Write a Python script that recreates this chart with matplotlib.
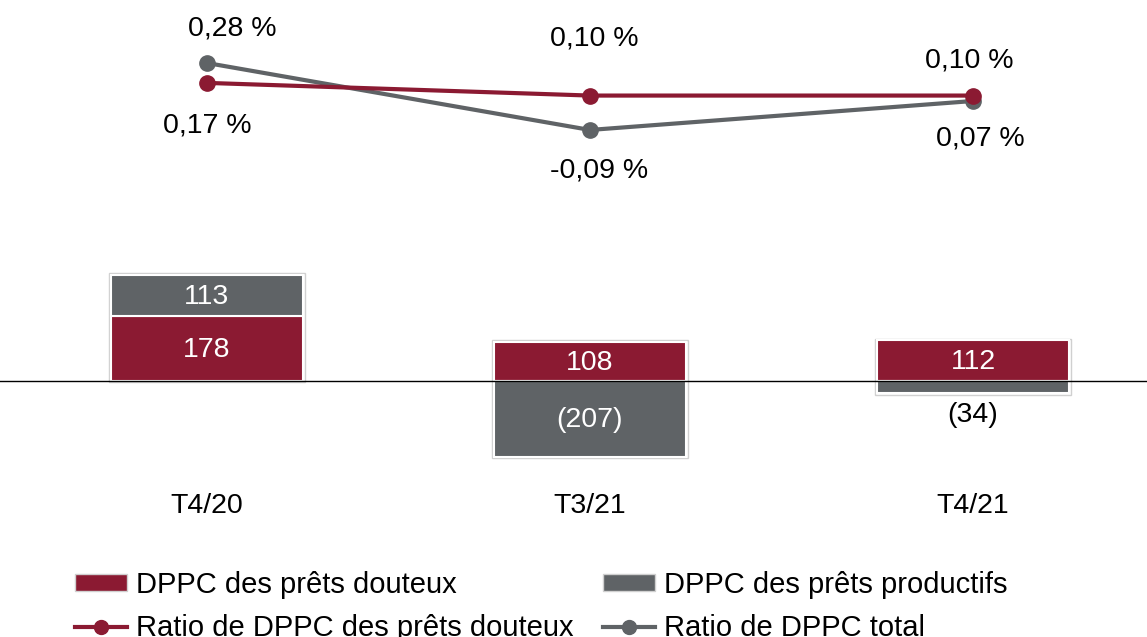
import matplotlib.pyplot as plt
from matplotlib.lines import Line2D
from matplotlib.patches import Patch

plt.rcParams['font.family'] = ['Liberation Sans', 'DejaVu Sans']

periodes = ['T4/20', 'T3/21', 'T4/21']
dppc_douteux = [178, 108, 112]
dppc_productifs = [113, -207, -34]
ratio_douteux = [0.17, 0.10, 0.10]
ratio_total = [0.28, -0.09, 0.07]

rouge = '#8b1a32'
gris = '#5f6366'
x = list(range(len(periodes)))
fs = 20.5

fig = plt.figure(figsize=(11.47, 6.37), dpi=100)

# lignes du haut
ax1 = fig.add_axes([0, 1 - 200 / 637, 1, 200 / 637])
ax1.plot(x, ratio_douteux, color=rouge, lw=3, marker='o', ms=11, zorder=3)
ax1.plot(x, ratio_total, color=gris, lw=3, marker='o', ms=11, zorder=2)
ax1.set_xlim(-0.54, 2.454)
ax1.set_ylim(-0.477, 0.628)
ax1.axis('off')

def fmt(v):
    return ('%.2f' % v).replace('.', ',') + ' %'

# positions des etiquettes (dx en unites x, dy en points)
pos_total = [(0.065, 25), (0.025, -29), (0.02, -27)]
pos_douteux = [(0.0, -31), (0.01, 41), (-0.01, 25)]
for i in x:
    dx, dy = pos_total[i]
    ax1.annotate(fmt(ratio_total[i]), (i + dx, ratio_total[i]), xytext=(0, dy),
                 textcoords='offset points', ha='center', va='center', fontsize=fs)
    dx, dy = pos_douteux[i]
    ax1.annotate(fmt(ratio_douteux[i]), (i + dx, ratio_douteux[i]), xytext=(0, dy),
                 textcoords='offset points', ha='center', va='center', fontsize=fs)

# barres du bas
ax2 = fig.add_axes([0, 1 - 470 / 637, 1, 210 / 637])
w = 0.5
ax2.bar(x, dppc_douteux, width=w, color=rouge, edgecolor='white', lw=1.5, zorder=2)
bott = [d if p > 0 else 0 for d, p in zip(dppc_douteux, dppc_productifs)]
ax2.bar(x, dppc_productifs, width=w, bottom=bott, color=gris, edgecolor='white', lw=1.5, zorder=2)
for i in x:
    lo = min(0, dppc_productifs[i])
    hi = dppc_douteux[i] + max(0, dppc_productifs[i])
    ax2.bar(i, hi - lo + 8, bottom=lo - 4, width=w + 0.012, fill=False,
            edgecolor='#d0d0d0', lw=1, zorder=1)
ax2.axhline(0, color='black', lw=1, zorder=3)
ax2.set_xlim(-0.54, 2.454)
ax2.set_ylim(-243.8, 331.5)
ax2.axis('off')

for i in x:
    ax2.text(i, dppc_douteux[i] / 2 - 4, str(dppc_douteux[i]), color='white',
             ha='center', va='center', fontsize=fs, zorder=4)
    p = dppc_productifs[i]
    lab = str(p) if p > 0 else '(%d)' % -p
    if abs(p) > 60:
        ax2.text(i, bott[i] + p / 2 - 4, lab, color='white', ha='center', va='center',
                 fontsize=fs, zorder=4)
    else:
        ax2.text(i, p - 60, lab, color='black', ha='center', va='center',
                 fontsize=fs, zorder=4)

for i, lab in enumerate(periodes):
    fig.text((207 + 383 * i) / 1147, 1 - 506 / 637, lab, ha='center', va='center', fontsize=fs)

handles = [
    Patch(facecolor=rouge, edgecolor='#d0d0d0'),
    Line2D([], [], color=rouge, lw=3, marker='o', ms=10),
    Patch(facecolor=gris, edgecolor='#d0d0d0'),
    Line2D([], [], color=gris, lw=3, marker='o', ms=10),
]
labels = ['DPPC des prêts douteux', 'Ratio de DPPC des prêts douteux',
          'DPPC des prêts productifs', 'Ratio de DPPC total']
fig.legend(handles, labels, ncol=2, loc='upper left', bbox_to_anchor=(0.065, 1 - 571 / 637),
           frameon=False, fontsize=21, handlelength=1.8, handleheight=0.5, handletextpad=0.3,
           columnspacing=1.0, labelspacing=0.52, borderaxespad=0, borderpad=0)

fig.savefig('out.png', dpi=100)
